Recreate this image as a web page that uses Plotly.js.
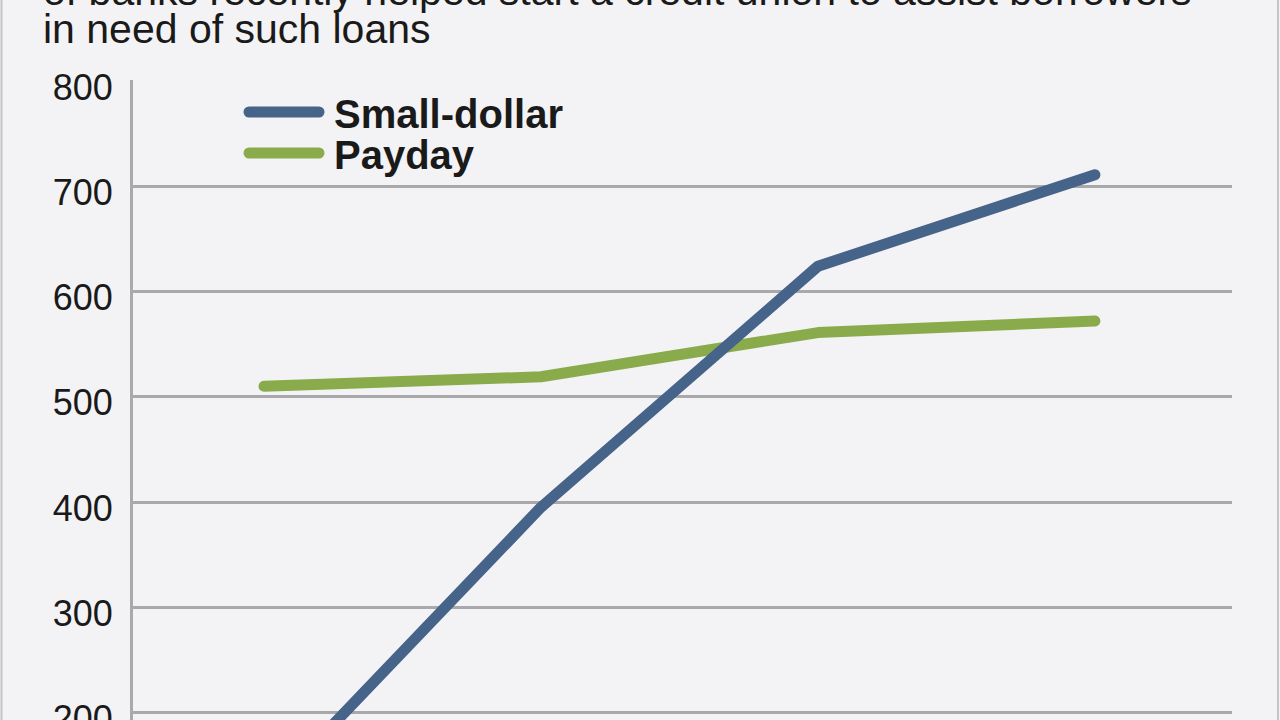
<!DOCTYPE html>
<html>
<head>
<meta charset="utf-8">
<script src="https://cdn.plot.ly/plotly-3.0.1.min.js"></script>
<style>
  html, body { margin: 0; padding: 0; background: #f3f3f5; }
  #chart { width: 1280px; height: 720px; }
  .scatterlayer path.js-line { stroke-linecap: round !important; stroke-linejoin: round !important; }
  .shapelayer path { stroke-linecap: round !important; }
</style>
</head>
<body>
<div id="chart"></div>
<script>
// ---- data ----
var periods = ["1", "2", "3", "4"];           // x categories (labels not visible in the crop)
var smallDollar = [120, 395, 624, 711];
var payday = [510, 519, 561, 572];
var yTicks = [200, 300, 400, 500, 600, 700, 800];
var seriesNames = ["Small-dollar", "Payday"];
var titleLines = [
  "of banks recently helped start a credit union to assist borrowers",
  "in need of such loans"
];

// ---- styling ----
var BLUE = "#46638a";
var GREEN = "#8aab4b";
var GRID = "#a9a9ac";
var BG = "#f3f3f5";
var FONT = "Liberation Sans, Arial, Helvetica, sans-serif";

// pixel helpers for annotations/shapes in paper coordinates
var L = 133, R = 48, T = 80, B = 0, W = 1280, H = 720;
var PW = W - L - R, PH = H - T - B;
function px(x) { return (x - L) / PW; }
function py(y) { return (H - B - y) / PH; }

var traces = [
  {
    x: periods, y: payday, name: seriesNames[1], type: "scatter", mode: "lines",
    line: { color: GREEN, width: 11 }, showlegend: false, hoverinfo: "y+name"
  },
  {
    x: periods, y: smallDollar, name: seriesNames[0], type: "scatter", mode: "lines",
    line: { color: BLUE, width: 11 }, showlegend: false, hoverinfo: "y+name"
  }
];

var layout = {
  width: W, height: H,
  margin: { l: L, r: R, t: T, b: B, pad: 0 },
  paper_bgcolor: BG, plot_bgcolor: BG,
  showlegend: false,
  font: { family: FONT, color: "#1a1a1a" },
  xaxis: {
    type: "category",
    categoryorder: "array", categoryarray: periods,
    range: [-0.473, 3.495],
    showgrid: false, zeroline: false, showline: false,
    showticklabels: false, ticks: "",
    fixedrange: true
  },
  yaxis: {
    range: [192.9, 800.95],
    tickvals: yTicks,
    ticktext: yTicks.map(String),
    showgrid: true, gridcolor: GRID, gridwidth: 3,
    zeroline: false,
    showline: true, linecolor: GRID, linewidth: 3,
    ticks: "",
    ticklabelstandoff: 10,
    ticklabelshift: 6,
    ticklabeloverflow: "allow",
    tickfont: { family: FONT, size: 36, color: "#1a1a1a" },
    fixedrange: true
  },
  shapes: [
    // frame edges of the graphic
    { type: "line", xref: "paper", yref: "paper", x0: px(1.5), x1: px(1.5), y0: -0.05, y1: 1.2,
      line: { color: "#c4c4c6", width: 2 } },
    { type: "line", xref: "paper", yref: "paper", x0: px(1278), x1: px(1278), y0: -0.05, y1: 1.2,
      line: { color: "#c4c4c6", width: 2 } },
    // legend swatches
    { type: "line", xref: "paper", yref: "paper", x0: px(249), x1: px(319), y0: py(112), y1: py(112),
      line: { color: BLUE, width: 11 } },
    { type: "line", xref: "paper", yref: "paper", x0: px(249), x1: px(319), y0: py(153), y1: py(153),
      line: { color: GREEN, width: 11 } }
  ],
  annotations: [
    { text: titleLines[0], xref: "paper", yref: "paper", x: px(41), y: py(16),
      xanchor: "left", yanchor: "bottom", showarrow: false,
      font: { family: FONT, size: 41, color: "#1a1a1a" } },
    { text: titleLines[1], xref: "paper", yref: "paper", x: px(41), y: py(54),
      xanchor: "left", yanchor: "bottom", showarrow: false,
      font: { family: FONT, size: 41, color: "#1a1a1a" } },
    { text: "<b>" + seriesNames[0] + "</b>", xref: "paper", yref: "paper", x: px(332), y: py(114),
      xanchor: "left", yanchor: "middle", showarrow: false,
      font: { family: FONT, size: 40, color: "#1a1a1a" } },
    { text: "<b>" + seriesNames[1] + "</b>", xref: "paper", yref: "paper", x: px(332), y: py(155),
      xanchor: "left", yanchor: "middle", showarrow: false,
      font: { family: FONT, size: 40, color: "#1a1a1a" } }
  ]
};

Plotly.newPlot("chart", traces, layout, { displayModeBar: false, staticPlot: true });
</script>
</body>
</html>
